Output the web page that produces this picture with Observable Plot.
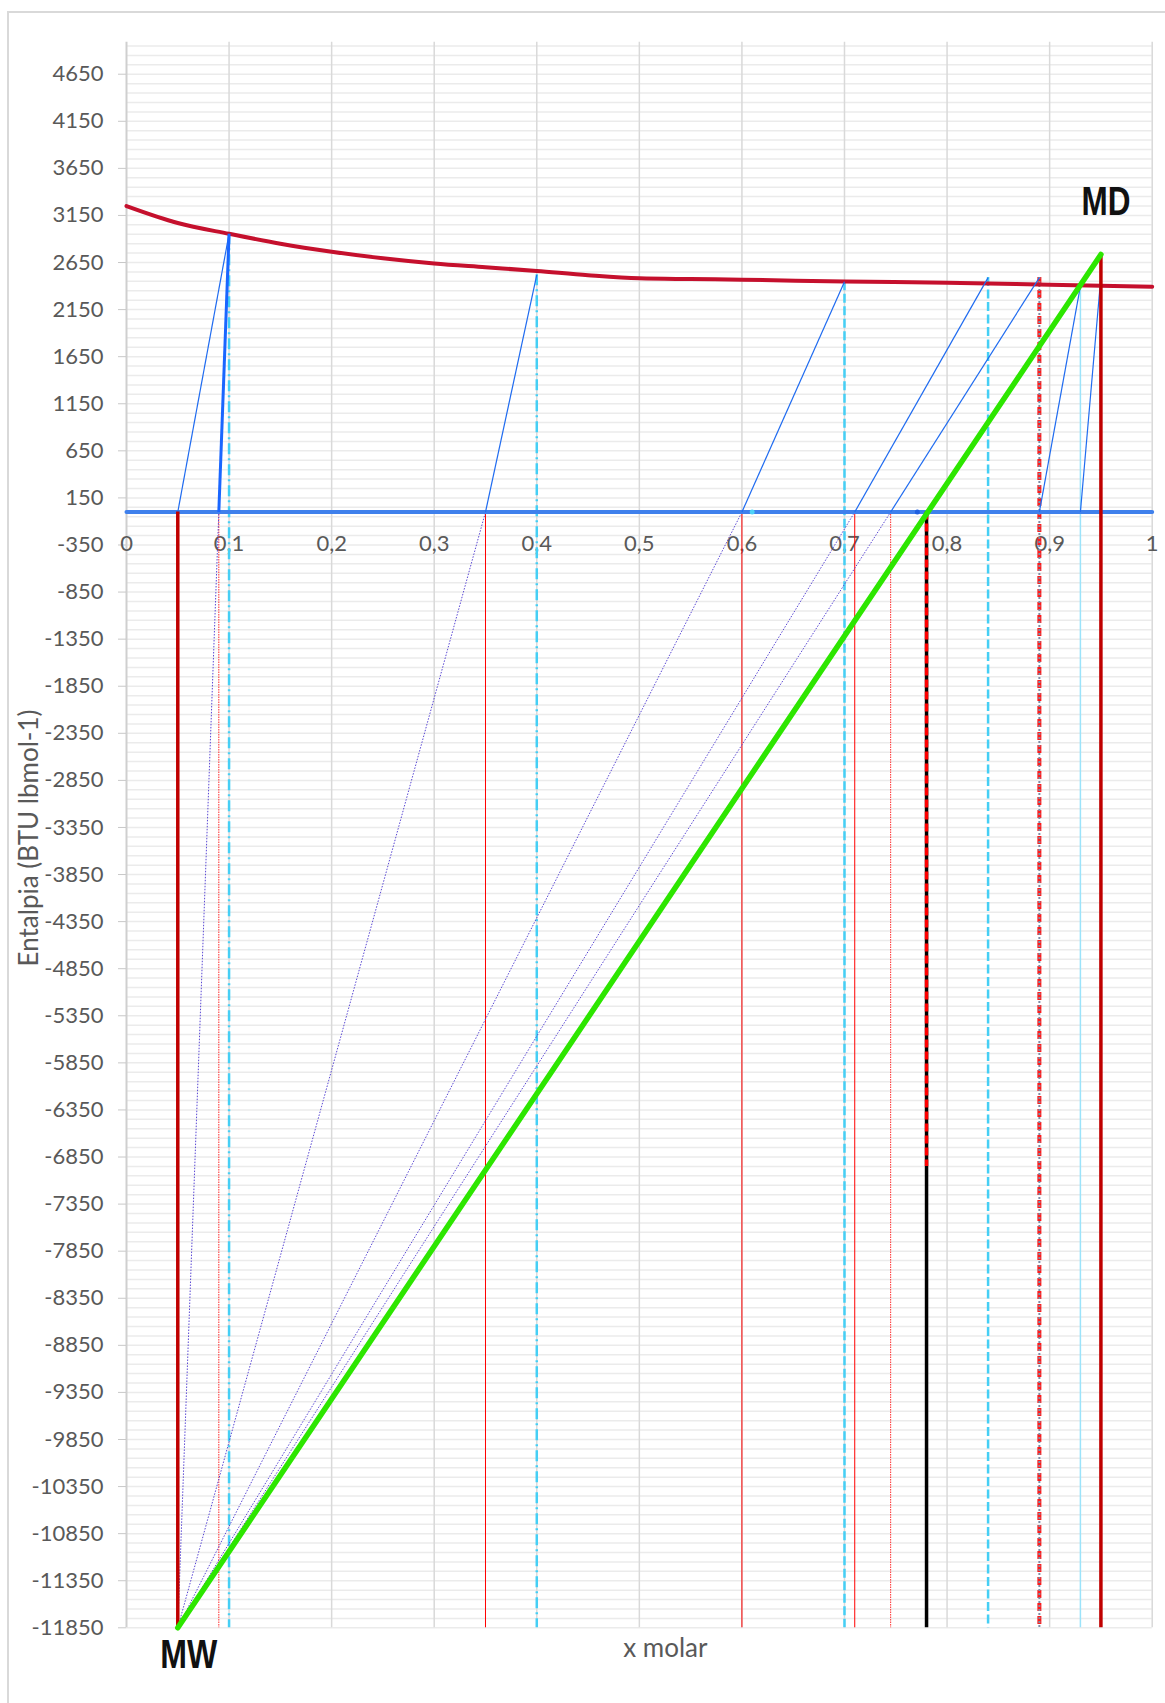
<!DOCTYPE html>
<html>
<head>
<meta charset="utf-8">
<script src="https://cdn.jsdelivr.net/npm/d3@7"></script>
<script src="https://cdn.jsdelivr.net/npm/@observablehq/plot@0.6"></script>
<style>
  html, body { margin: 0; padding: 0; background: #ffffff; overflow: hidden; }
  #frame { position: absolute; left: 7px; top: 11px; width: 1200px; height: 1750px;
           border-left: 2px solid #D9D9D9; border-top: 2px solid #D9D9D9; }
  #chart { position: absolute; left: 0; top: 0; }
</style>
</head>
<body>
<div id="frame"></div>
<div id="chart"></div>
<script>
// Enthalpy–composition (Ponchon–Savarit) diagram

// Axis ranges and ticks
const yMin = -11850;
const yMax = 4990;
const yTicks = [-11850, -11350, -10850, -10350, -9850, -9350, -8850, -8350, -7850, -7350,
  -6850, -6350, -5850, -5350, -4850, -4350, -3850, -3350, -2850, -2350, -1850, -1350,
  -850, -350, 150, 650, 1150, 1650, 2150, 2650, 3150, 3650, 4150, 4650];
const gridH = d3.range(-11850, 4951, 100);
const xTicks = [0, 0.1, 0.2, 0.3, 0.4, 0.5, 0.6, 0.7, 0.8, 0.9, 1];
const xTickLabels = ["0", "0,1", "0,2", "0,3", "0,4", "0,5", "0,6", "0,7", "0,8", "0,9", "1"];

// Saturated vapour enthalpy curve
const vaporX = [0, 0.05, 0.1, 0.15, 0.2, 0.25, 0.3, 0.35, 0.4, 0.45, 0.5, 0.55, 0.6, 0.7, 0.8, 0.9, 1];
const vaporH = [3250, 3070, 2955, 2850, 2765, 2695, 2640, 2600, 2560, 2515, 2482, 2474, 2468, 2448, 2436, 2414, 2392];

// Saturated liquid line
const liquidX = [0, 1];
const liquidH = [0, 0];

// Difference points
const markerX = [0.05, 0.95];
const markerH = [-11850, 2735];
const markerLabel = ["MW", "MD"];

// Liquid → vapour stage lines
const tieLiqX = [0.05, 0.35, 0.60, 0.71, 0.745, 0.89, 0.93];
const tieVapX = [0.10, 0.40, 0.70, 0.84, 0.89, 0.93, 0.95];
const tieVapH = [2955, 2520, 2446, 2490, 2490, 2400, 2502];
const boldLiqX = [0.09];
const boldVapX = [0.10];
const boldVapH = [2955];

// Operating lines from MW to the liquid line
const opLiqX = [0.09, 0.35, 0.60, 0.71, 0.745];

// Vertical composition lines
const redThinX = [0.35, 0.60, 0.71];
const redDotX = [0.09, 0.745];
const cyanDashDotX = [0.10, 0.40];
const cyanDashDotTop = [2955, 2520];
const cyanDashX = [0.70, 0.84];
const cyanDashTop = [2446, 2490];
const paleCyanX = [0.93];
const paleCyanTop = [2400];
const mixedX = [0.89];
const mixedTop = [2490];
const feedX = [0.78];
const feedDashBottom = [-6950];
const darkRedX = [0.05, 0.95];
const darkRedTop = [0, 2735];

// Points on the liquid line
const dotX = [0.61, 0.771];
const dotColor = ["#4DD2F7", "#1F5FE0"];

const font = "Lato, 'Open Sans', sans-serif";
const narrow = "'Liberation Sans Narrow', 'Arial Narrow', 'Liberation Sans', sans-serif";
const labelWidth = {MW: 57, MD: 49};
const markers = markerX.map((x, i) => ({x, h: markerH[i], label: markerLabel[i]}));

const chart = Plot.plot({
  width: 1165,
  height: 1703,
  marginLeft: 126,
  marginRight: 13.3,
  marginTop: 41.7,
  marginBottom: 75.7,
  x: {domain: [0, 1], axis: null},
  y: {domain: [yMin, yMax], axis: null},
  style: {background: "transparent", fontFamily: font, fontSize: "22px", overflow: "visible"},
  marks: [
    // grid and axes
    Plot.gridY(gridH, {stroke: "#EBEBEB", strokeOpacity: 1, strokeWidth: 1.5}),
    Plot.gridX(xTicks.slice(1), {stroke: "#D9D9D9", strokeOpacity: 1, strokeWidth: 1.5}),
    Plot.ruleX([0], {stroke: "#CFCFCF", strokeWidth: 2}),
    Plot.axisY(yTicks, {anchor: "left", tickSize: 8, tickPadding: 15, tickFormat: d => String(d),
      stroke: "#C8C8C8", fill: "#595959", fontSize: 22, label: null}),
    Plot.text(xTicks, {x: d => d, y: () => 0, text: (d, i) => xTickLabels[i], dy: 32,
      fontSize: 22, fill: "#595959", textAnchor: "middle", lineAnchor: "middle"}),
    Plot.text(["Entalpia (BTU lbmol-1)"], {frameAnchor: "left", dx: -97, dy: 3, rotate: -90,
      fontSize: 26, fill: "#595959", textAnchor: "middle", lineAnchor: "middle"}),
    Plot.text(["x molar"], {frameAnchor: "bottom", dx: 26, dy: 21,
      fontSize: 26, fill: "#595959", textAnchor: "middle", lineAnchor: "middle"}),

    // vertical composition lines
    Plot.ruleX(redThinX, {x: d => d, y1: 0, y2: yMin, stroke: "#FF0000", strokeWidth: 1}),
    Plot.ruleX(redDotX, {x: d => d, y1: 0, y2: yMin, stroke: "#FF2A2A", strokeWidth: 1, strokeDasharray: "1.5,1"}),
    Plot.ruleX(cyanDashDotX, {x: d => d, y1: (d, i) => cyanDashDotTop[i], y2: yMin,
      stroke: "#45CFF5", strokeWidth: 2.5, strokeDasharray: "11,4,2,4"}),
    Plot.ruleX(cyanDashX, {x: d => d, y1: (d, i) => cyanDashTop[i], y2: yMin,
      stroke: "#45CFF5", strokeWidth: 2.5, strokeDasharray: "9,3.5"}),
    Plot.ruleX(paleCyanX, {x: d => d, y1: (d, i) => paleCyanTop[i], y2: yMin,
      stroke: "#9BE3FA", strokeWidth: 1.5}),
    Plot.ruleX(mixedX, {x: d => d, y1: (d, i) => mixedTop[i], y2: yMin,
      stroke: "#FF1A1A", strokeWidth: 4, strokeDasharray: "8,5"}),
    Plot.ruleX(mixedX, {x: d => d, y1: (d, i) => mixedTop[i], y2: yMin,
      stroke: "#7D8DA8", strokeWidth: 2, strokeDasharray: "2,2"}),

    // operating lines from MW
    Plot.link(opLiqX, {x1: markerX[0], y1: markerH[0], x2: d => d, y2: 0,
      stroke: "#5A48D4", strokeWidth: 1, strokeDasharray: "1.5,1.5"}),

    // saturated liquid and vapour
    Plot.line(liquidX, {x: d => d, y: (d, i) => liquidH[i], stroke: "#3F80EC", strokeWidth: 4}),
    Plot.line(vaporX, {x: d => d, y: (d, i) => vaporH[i], curve: "monotone-x",
      stroke: "#C5102D", strokeWidth: 4}),

    // stage lines
    Plot.link(tieLiqX, {x1: d => d, y1: 0, x2: (d, i) => tieVapX[i], y2: (d, i) => tieVapH[i],
      stroke: "#1F6BF0", strokeWidth: 1.2}),
    Plot.link(boldLiqX, {x1: d => d, y1: 0, x2: (d, i) => boldVapX[i], y2: (d, i) => boldVapH[i],
      stroke: "#1A66FF", strokeWidth: 3}),

    // feed line
    Plot.ruleX(feedX, {x: d => d, y1: 0, y2: yMin, stroke: "#000000", strokeWidth: 3.5}),
    Plot.ruleX(feedX, {x: d => d, y1: 0, y2: (d, i) => feedDashBottom[i],
      stroke: "#FF0000", strokeWidth: 3.5, strokeDasharray: "8,4"}),

    // product verticals
    Plot.ruleX(darkRedX, {x: d => d, y1: (d, i) => darkRedTop[i], y2: yMin,
      stroke: "#C00000", strokeWidth: 3.5}),

    // MW–MD line
    Plot.line(markers, {x: "x", y: "h", stroke: "#2DE600", strokeWidth: 5.5}),

    Plot.dot(dotX, {x: d => d, y: () => 0, r: 2.5, fill: (d, i) => dotColor[i], stroke: null}),

    // difference point labels
    Plot.text(markers.filter(d => d.label === "MW"), {x: "x", y: "h", text: "label", dx: 11, dy: 27,
      fontFamily: narrow, fontWeight: 700, fontSize: 40, fill: "#111111",
      textAnchor: "middle", lineAnchor: "middle"}),
    Plot.text(markers.filter(d => d.label === "MD"), {x: "x", y: "h", text: "label", dx: 5, dy: -52,
      fontFamily: narrow, fontWeight: 700, fontSize: 40, fill: "#111111",
      textAnchor: "middle", lineAnchor: "middle"})
  ]
});

// condense the bold point labels
for (const t of chart.querySelectorAll("text")) {
  const w = labelWidth[t.textContent];
  if (w) {
    t.setAttribute("textLength", w);
    t.setAttribute("lengthAdjust", "spacingAndGlyphs");
  }
}

document.getElementById("chart").append(chart);
</script>
</body>
</html>
